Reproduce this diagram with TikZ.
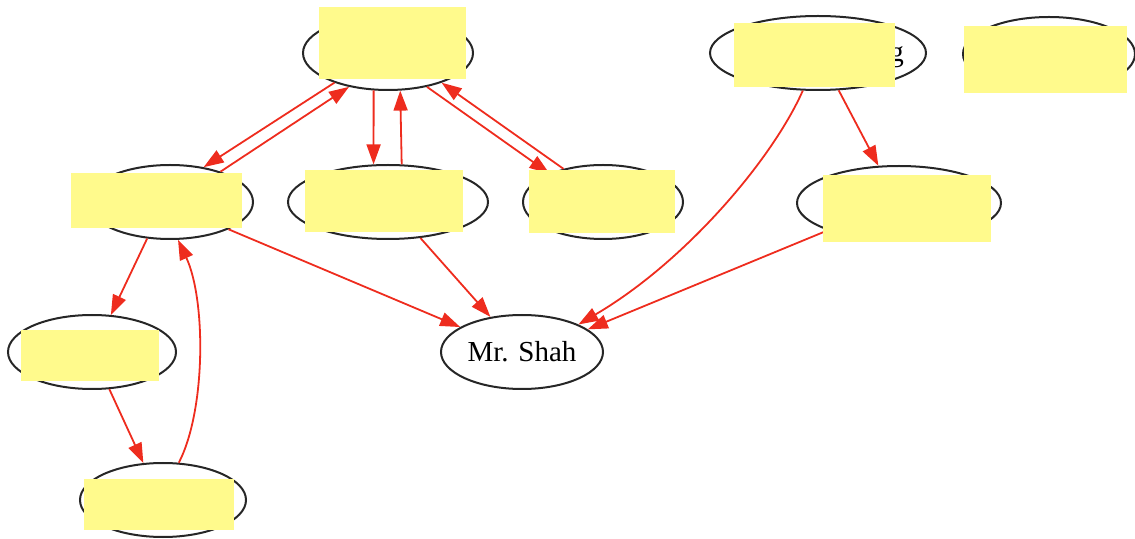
\documentclass[tikz,border=0pt]{standalone}
\usepackage{fontspec}
\setmainfont{Liberation Serif}
\usetikzlibrary{shapes.geometric,arrows.meta}
\definecolor{edgered}{RGB}{238,44,30}
\definecolor{hideyellow}{RGB}{255,250,140}
\tikzset{
  ell/.style={ellipse, draw=black!85, line width=1pt, inner sep=0pt, minimum height=37pt, font=\fontsize{14.5}{17}\selectfont},
  edge/.style={draw=edgered, line width=0.9pt, -{Triangle[length=10pt,width=7pt]}},
  hide/.style={fill=hideyellow}
}
\begin{document}
\begin{tikzpicture}[x=0.5pt,y=-0.5pt]
\useasboundingbox (0,0) rectangle (1135,539);
% nodes
\node[ell, minimum width=85pt]  (A) at (388,53) {};
\node[ell, minimum width=108pt] (B) at (818,53) {};
\node[ell, minimum width=86pt]  (C) at (1049,54) {};
\node[ell, minimum width=83pt]  (D) at (170,202) {};
\node[ell, minimum width=100pt] (E) at (388,202) {};
\node[ell, minimum width=80pt]  (F) at (603,202) {};
\node[ell, minimum width=102pt] (G) at (899,203) {};
\node[ell, minimum width=84pt]  (H) at (92,352) {};
\node[ell, minimum width=81pt]  (S) at (522,352) {Mr. Shah};
\node[ell, minimum width=83pt]  (J) at (163,500) {};
\node[font=\fontsize{14.5}{17}\selectfont, anchor=base west, inner sep=0pt] (Bg) at (889,62) {g};
% edges
\draw[edge] (A.209) -- (D.46);
\draw[edge] (D.31) -- (A.221);
\draw[edge] (A.249) -- (E.111);
\draw[edge] (E.70) -- (A.288);
\draw[edge] (A.319) -- (F.152);
\draw[edge] (F.140) -- (A.331);
\draw[edge] (B.299) -- (G.119);
\draw[edge] (B.248) .. controls (772,160) and (685,262) .. (S.26);
\draw[edge] (G.201) -- (S.19);
\draw[edge] (D.335) -- (S.158);
\draw[edge] (E.312) -- (S.132);
\draw[edge] (D.238) -- (H.63);
\draw[edge] (H.295) -- (J.118);
\draw[edge] (J.67) .. controls (206,410) and (206,300) .. (D.282);
% redaction boxes
\fill[hide] (319,7) rectangle (466,79);
\fill[hide] (734,23) rectangle (895,87);
\fill[hide] (964,26) rectangle (1127,93);
\fill[hide] (71,173) rectangle (242,228);
\fill[hide] (305,170) rectangle (463,232);
\fill[hide] (529,170) rectangle (675,233);
\fill[hide] (823,175) rectangle (991,242);
\fill[hide] (21,330) rectangle (159,381);
\fill[hide] (84,479) rectangle (234,530);
\end{tikzpicture}
\end{document}
